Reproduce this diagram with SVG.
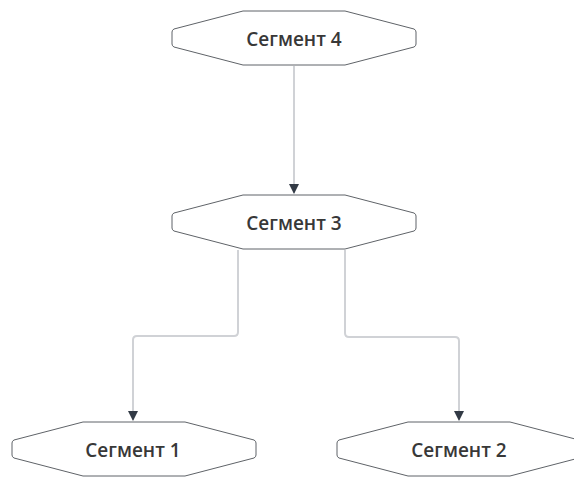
<svg xmlns="http://www.w3.org/2000/svg" width="574" height="477" viewBox="0 0 574 477">
<style>
.node{fill:#ffffff;stroke:#5f6368;stroke-width:1;stroke-linejoin:round}
.lbl{font-family:"Open Sans","Noto Sans",sans-serif;font-size:19px;font-weight:600;fill:#383838;text-anchor:middle;dominant-baseline:central}
.edge{fill:none;stroke:#d0d2d6;stroke-width:2}
</style>
<defs>
<marker id="arr" viewBox="0 0 10 10" refX="9" refY="5" markerWidth="5" markerHeight="5" orient="auto" markerUnits="strokeWidth">
<path d="M0,0 L10,5 L0,10 z" fill="#323a45"/>
</marker>
<path id="oct" d="M71,0 H173 L242,18 Q244,19 244,21 V33 Q244,35 242,36 L173,54 H71 L2,36 Q0,35 0,33 V21 Q0,19 2,18 Z"/>
</defs>
<g id="connectors">
<path class="edge" d="M294,66 V193" marker-end="url(#arr)"/>
<path class="edge" d="M238,250 V332 Q238,336 234,336 H137 Q133,336 133,340 V420" marker-end="url(#arr)"/>
<path class="edge" d="M345,250 V333 Q345,337 349,337 H455 Q459,337 459,341 V420" marker-end="url(#arr)"/>
</g>
<g id="seg4">
<use href="#oct" class="node" x="172" y="11"/>
<text class="lbl" x="294" y="39">Сегмент 4</text>
</g>
<g id="seg3">
<use href="#oct" class="node" x="172" y="195"/>
<text class="lbl" x="294" y="223">Сегмент 3</text>
</g>
<g id="seg1">
<use href="#oct" class="node" x="12" y="422"/>
<text class="lbl" x="133" y="450">Сегмент 1</text>
</g>
<g id="seg2">
<use href="#oct" class="node" x="337" y="422"/>
<text class="lbl" x="459" y="450">Сегмент 2</text>
</g>
</svg>
